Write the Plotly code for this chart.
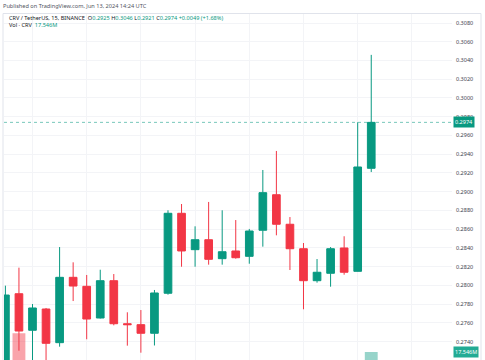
import plotly.graph_objects as go
import datetime as dt

# ---- data ----
times = ["2024-06-13 07:30", "2024-06-13 07:45", "2024-06-13 08:00", "2024-06-13 08:15",
         "2024-06-13 08:30", "2024-06-13 08:45", "2024-06-13 09:00", "2024-06-13 09:15",
         "2024-06-13 09:30", "2024-06-13 09:45", "2024-06-13 10:00", "2024-06-13 10:15",
         "2024-06-13 10:30", "2024-06-13 10:45", "2024-06-13 11:00", "2024-06-13 11:15",
         "2024-06-13 11:30", "2024-06-13 11:45", "2024-06-13 12:00", "2024-06-13 12:15",
         "2024-06-13 12:30", "2024-06-13 12:45", "2024-06-13 13:00", "2024-06-13 13:15",
         "2024-06-13 13:30", "2024-06-13 13:45", "2024-06-13 14:00", "2024-06-13 14:15"]
opens = [0.2712, 0.27912, 0.27522, 0.27749, 0.27390, 0.28087, 0.27991, 0.27653,
         0.28051, 0.27592, 0.27582, 0.27490, 0.27917, 0.28770, 0.28382, 0.28488,
         0.28286, 0.28368, 0.28311, 0.28589, 0.28968, 0.28653, 0.28392, 0.28051,
         0.28130, 0.28400, 0.28151, 0.2925]
highs = [0.27998, 0.28190, 0.27802, 0.27760, 0.28410, 0.28247, 0.28112, 0.28168,
         0.28122, 0.27714, 0.27738, 0.27952, 0.28802, 0.28869, 0.28631, 0.28891,
         0.28802, 0.28698, 0.28603, 0.29232, 0.29435, 0.28730, 0.28453, 0.28282,
         0.28410, 0.28525, 0.29741, 0.3046]
lows = [0.2709, 0.27304, 0.2714, 0.2712, 0.27347, 0.27834, 0.27426, 0.27648,
        0.27575, 0.27358, 0.27283, 0.27360, 0.27902, 0.28200, 0.28200, 0.28222,
        0.28222, 0.28286, 0.28232, 0.28414, 0.28535, 0.28165, 0.27746, 0.28030,
        0.27987, 0.28115, 0.28150, 0.2921]
closes = [0.27898, 0.27514, 0.27760, 0.27383, 0.28087, 0.27994, 0.27642, 0.28051,
          0.27592, 0.27582, 0.27490, 0.27920, 0.28770, 0.28368, 0.28488, 0.28279,
          0.28360, 0.28296, 0.28581, 0.28990, 0.28653, 0.28392, 0.28051, 0.28141,
          0.28392, 0.28141, 0.29264, 0.2974]
# only the volume bars that are visible in the picture
volumes = [None, 26.2e6, None, None, None, None, None, None, None, None, None, None,
           None, None, None, None, None, None, None, None, None, None, None, None,
           None, None, None, 17.546e6]
price_ticks = [0.2720, 0.2740, 0.2760, 0.2780, 0.2800, 0.2820, 0.2840, 0.2860, 0.2880,
               0.2900, 0.2920, 0.2940, 0.2960, 0.2980, 0.3000, 0.3020, 0.3040, 0.3060, 0.3080]

UP = "#089981"
DOWN = "#F23645"

W, H = 485, 360
ML, MR, MT, MB = 4, 33, 14, 0
PW, PH = W - ML - MR, H - MT - MB


def px_x(x):
    return (x - ML) / PW


def px_y(y):
    return (H - MB - y) / PH


vol_colors = ["rgba(8,153,129,0.42)" if c >= o else "rgba(242,54,69,0.45)"
              for o, c in zip(opens, closes)]

fig = go.Figure()
fig.add_trace(go.Bar(x=times, y=volumes, marker=dict(color=vol_colors, line=dict(width=0)),
                     width=0.95 * 900000, yaxis="y2", hoverinfo="skip", showlegend=False))
fig.add_trace(go.Candlestick(
    x=times, open=opens, high=highs, low=lows, close=closes,
    increasing=dict(line=dict(color=UP, width=1), fillcolor=UP),
    decreasing=dict(line=dict(color=DOWN, width=1), fillcolor=DOWN),
    whiskerwidth=0, showlegend=False))

t0 = dt.datetime(2024, 6, 13, 7, 30)
xr = [t0 + dt.timedelta(minutes=15 * -0.103), t0 + dt.timedelta(minutes=15 * 32.96)]

fnt = "Noto Sans, Roboto, sans-serif"
last = closes[-1]
chg = closes[-1] - opens[-1]

fig.update_layout(
    width=W, height=H, margin=dict(l=ML, r=MR, t=MT, b=MB),
    paper_bgcolor="white", plot_bgcolor="white",
    boxgap=0.19, bargap=0.05,
    xaxis=dict(type="date", range=xr, rangeslider=dict(visible=False),
               showticklabels=False, ticks="", showgrid=True, gridcolor="#f3f4f7",
               gridwidth=1, dtick=3600000, tick0="2024-06-13 08:00", zeroline=False,
               showline=False),
    yaxis=dict(side="right", range=[0.27205, 0.30896], tickvals=price_ticks,
               ticktext=[f"{v:.4f}" for v in price_ticks], showgrid=True,
               gridcolor="#f3f4f7", gridwidth=1, zeroline=False, ticks="",
               tickfont=dict(family=fnt, size=5.5, color="#3d414b"),
               ticklabelstandoff=3),
    yaxis2=dict(overlaying="y", range=[13.85e6, 173.6e6], visible=False,
                showgrid=False, zeroline=False),
    font=dict(family=fnt),
)

# last price dotted line
fig.add_shape(type="line", xref="paper", x0=0, x1=1, yref="y", y0=last, y1=last,
              line=dict(color="rgba(8,153,129,0.55)", width=1, dash="dot"))
# frame
fig.add_shape(type="line", xref="paper", yref="paper", x0=px_x(3), x1=px_x(481),
              y0=px_y(13.5), y1=px_y(13.5), line=dict(color="#e0e3eb", width=1))
fig.add_shape(type="line", xref="paper", yref="paper", x0=px_x(481), x1=px_x(481),
              y0=px_y(13.5), y1=px_y(360), line=dict(color="#e0e3eb", width=1))
fig.add_shape(type="line", xref="paper", yref="paper", x0=px_x(3), x1=px_x(3),
              y0=px_y(13.5), y1=px_y(360), line=dict(color="#e0e3eb", width=1))

# price & volume labels on axis
fig.add_annotation(xref="paper", x=1, xanchor="left", yref="y", y=last, yanchor="middle",
                   text=f"{last:.4f}", showarrow=False, bgcolor=UP, borderpad=1,
                   font=dict(family=fnt, size=5.5, color="white"), xshift=1)
fig.add_annotation(xref="paper", x=1, xanchor="left", yref="y2", y=volumes[-1],
                   yanchor="middle", text="17.546M", showarrow=False,
                   bgcolor="#22ab94", borderpad=1,
                   font=dict(family=fnt, size=5.5, color="white"), xshift=1)

# header texts
fig.add_annotation(xref="paper", yref="paper", x=px_x(1), y=px_y(6), xanchor="left",
                   yanchor="middle", showarrow=False,
                   text="Published on TradingView.com, Jun 13, 2024 14:24 UTC",
                   font=dict(family=fnt, size=5.6, color="#50535e"))
g = "color:#089981"
legend = (f"CRV / TetherUS, 15, BINANCE  O<span style='{g}'>{opens[-1]:.4f}</span>"
          f" H<span style='{g}'>{highs[-1]:.4f}</span>"
          f" L<span style='{g}'>{lows[-1]:.4f}</span>"
          f" C<span style='{g}'>{closes[-1]:.4f}</span>"
          f" <span style='{g}'>+{chg:.4f} (+{chg / opens[-1] * 100:.2f}%)</span>")
fig.add_annotation(xref="paper", yref="paper", x=px_x(7), y=px_y(17.7), xanchor="left",
                   yanchor="middle", showarrow=False, text=legend,
                   font=dict(family=fnt, size=5.6, color="#131722"))
fig.add_annotation(xref="paper", yref="paper", x=px_x(7), y=px_y(24.5), xanchor="left",
                   yanchor="middle", showarrow=False,
                   text=f"Vol · CRV  <span style='{g}'>17.546M</span>",
                   font=dict(family=fnt, size=5.6, color="#131722"))

fig.write_html("out.html", config={"displayModeBar": False},
               post_script="document.body.style.margin='0';document.body.style.padding='0';")
